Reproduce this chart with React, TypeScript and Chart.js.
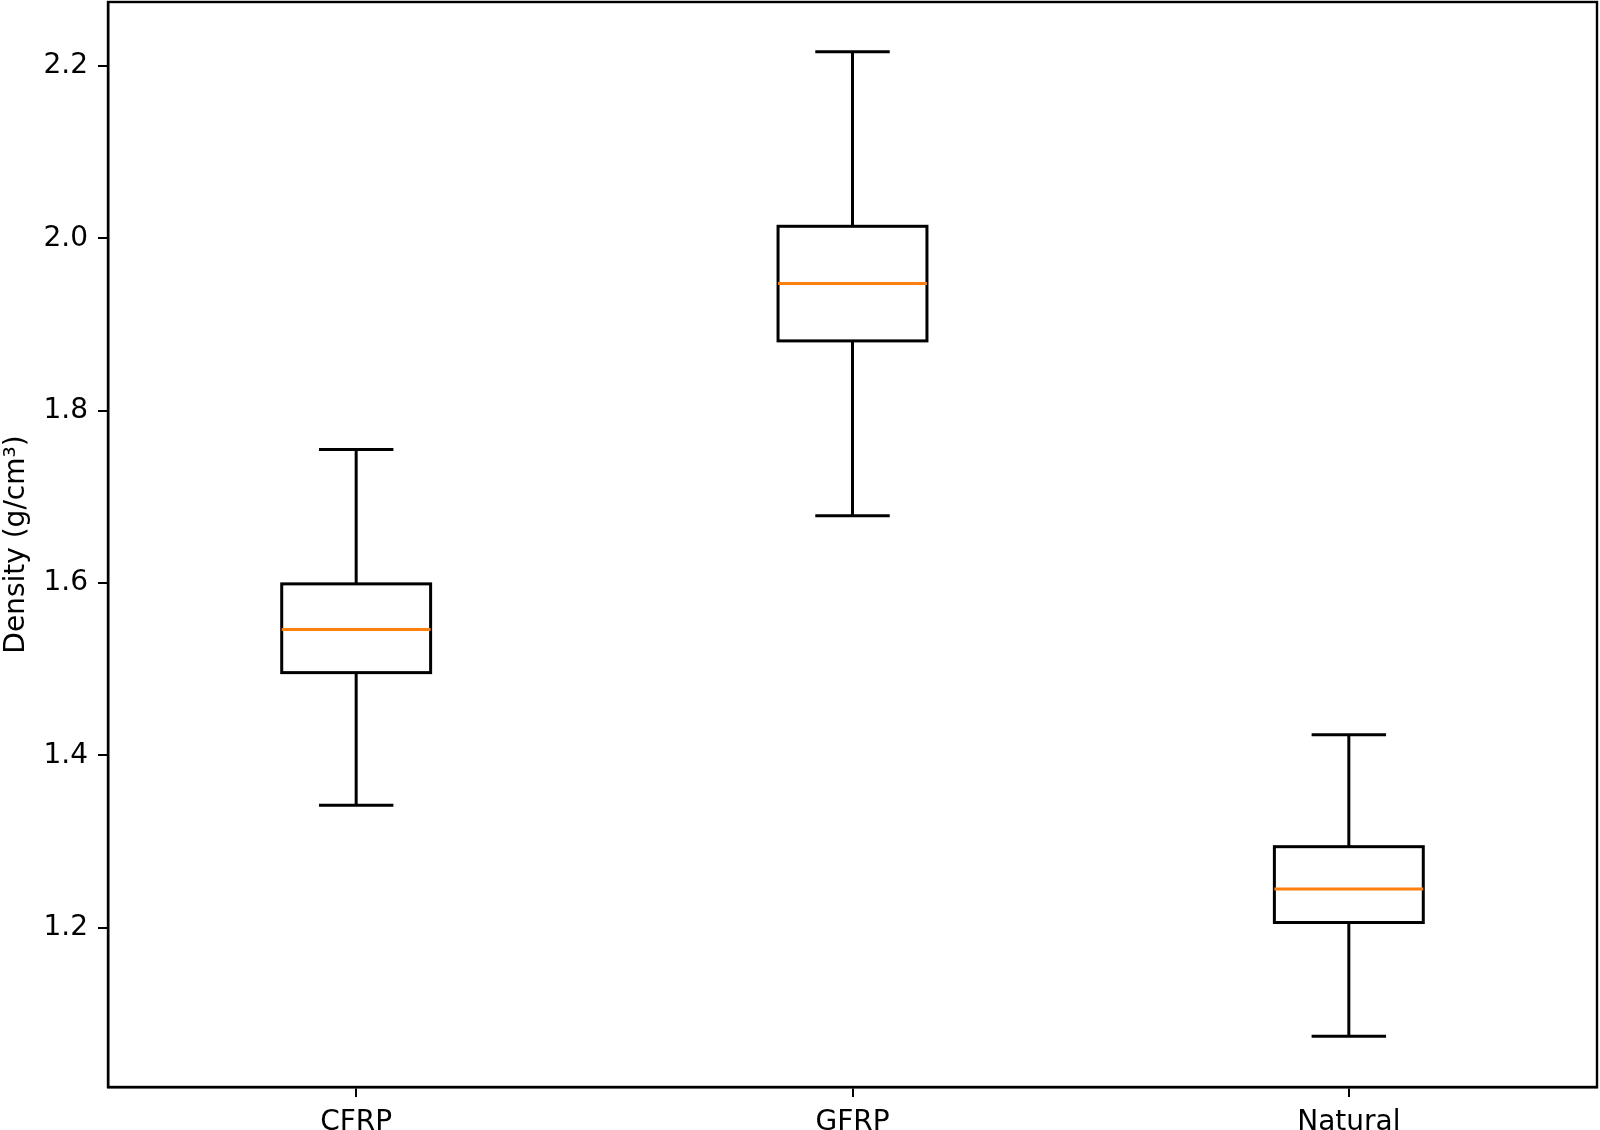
import React, { useEffect, useRef } from "react";
import { Chart, registerables } from "chart.js";

Chart.register(...registerables);

const categories = ["CFRP", "GFRP", "Natural"];
const whiskerLow = [1.342, 1.678, 1.074];
const q1 = [1.496, 1.881, 1.206];
const median = [1.546, 1.9475, 1.245];
const q3 = [1.599, 2.014, 1.294];
const whiskerHigh = [1.755, 2.2165, 1.424];
const yTicks = [1.2, 1.4, 1.6, 1.8, 2.0, 2.2];
const yMin = 1.0151;
const yMax = 2.2743;
const yTitle = "Density (g/cm³)";

const CANVAS_W = 1600;
const CANVAS_H = 1160;
const FONT = "'DejaVu Sans', sans-serif";

const boxPlugin = {
  id: "boxWhiskers",
  afterDatasetsDraw(chart: any) {
    const { ctx, scales, chartArea } = chart;
    const xs = scales.x;
    const ys = scales.y;
    const bars = chart.getDatasetMeta(0).data;
    const step = (chartArea.right - chartArea.left) / categories.length;
    const capHalf = step * 0.075;
    ctx.save();
    ctx.lineCap = "butt";
    ctx.lineJoin = "miter";
    categories.forEach((_, i) => {
      const cx = xs.getPixelForValue(i);
      const yLow = ys.getPixelForValue(whiskerLow[i]);
      const yQ1 = ys.getPixelForValue(q1[i]);
      const yQ3 = ys.getPixelForValue(q3[i]);
      const yHigh = ys.getPixelForValue(whiskerHigh[i]);
      const yMed = ys.getPixelForValue(median[i]);
      const bar = bars[i];
      const boxHalf = bar.width / 2;
      ctx.strokeStyle = "#000";
      ctx.lineWidth = 3;
      ctx.beginPath();
      ctx.moveTo(cx, yQ1);
      ctx.lineTo(cx, yLow);
      ctx.moveTo(cx, yQ3);
      ctx.lineTo(cx, yHigh);
      ctx.moveTo(cx - capHalf, yLow);
      ctx.lineTo(cx + capHalf, yLow);
      ctx.moveTo(cx - capHalf, yHigh);
      ctx.lineTo(cx + capHalf, yHigh);
      ctx.stroke();
      ctx.strokeRect(cx - boxHalf, yQ3, boxHalf * 2, yQ1 - yQ3);
      ctx.strokeStyle = "#ff7f0e";
      ctx.lineWidth = 3;
      ctx.beginPath();
      ctx.moveTo(cx - boxHalf, yMed);
      ctx.lineTo(cx + boxHalf, yMed);
      ctx.stroke();
    });
    ctx.strokeStyle = "#000";
    ctx.lineWidth = 2.4;
    ctx.strokeRect(chartArea.left, chartArea.top, chartArea.right - chartArea.left, chartArea.bottom - chartArea.top);
    ctx.restore();
  },
};

export default function App() {
  const ref = useRef<HTMLCanvasElement | null>(null);
  useEffect(() => {
    document.body.style.margin = "0";
    const canvas = ref.current!;
    const boxData = categories.map((_, i) => [q1[i], q3[i]]);
    const chart = new Chart(canvas, {
      type: "bar",
      data: {
        labels: categories,
        datasets: [
          {
            data: boxData as any,
            backgroundColor: "rgba(255,255,255,0)",
            borderColor: "rgba(0,0,0,0)",
            borderWidth: 0,
            barPercentage: 0.3,
            categoryPercentage: 1,
          },
        ],
      },
      options: {
        responsive: false,
        animation: false,
        devicePixelRatio: 1,
        layout: { padding: { top: 2, right: 3, left: 0, bottom: 0 } },
        plugins: { legend: { display: false }, tooltip: { enabled: false } },
        scales: {
          x: {
            type: "category",
            offset: true,
            grid: {
              display: true,
              offset: false,
              drawOnChartArea: false,
              drawTicks: true,
              tickLength: 10,
              lineWidth: 2,
              color: "#000",
            },
            border: { display: true, color: "#000", width: 2.4 },
            ticks: {
              color: "#000",
              font: { family: FONT, size: 28 },
              padding: 9,
              maxRotation: 0,
            },
            afterFit(s: any) {
              s.height = CANVAS_H - 1087;
              s.paddingLeft = 0;
              s.paddingRight = 0;
            },
          },
          y: {
            type: "linear",
            min: yMin,
            max: yMax,
            grid: {
              display: true,
              drawOnChartArea: false,
              drawTicks: true,
              tickLength: 10,
              lineWidth: 2,
              color: "#000",
            },
            border: { display: true, color: "#000", width: 2.4 },
            ticks: {
              color: "#000",
              font: { family: FONT, size: 28 },
              padding: 10,
              callback: (v: any) => Number(v).toFixed(1),
            },
            afterBuildTicks(s: any) {
              s.ticks = yTicks.map((v) => ({ value: v }));
            },
            title: {
              display: true,
              text: yTitle,
              color: "#000",
              font: { family: FONT, size: 28 },
              padding: 0,
            },
            afterFit(s: any) {
              s.width = 108;
              s.paddingTop = 0;
              s.paddingBottom = 0;
            },
          },
        },
      },
      plugins: [boxPlugin],
    });
    return () => chart.destroy();
  }, []);
  return (
    <div style={{ width: 1600, height: 1130, overflow: "hidden", position: "relative", background: "#fff" }}>
      <canvas ref={ref} width={CANVAS_W} height={CANVAS_H} style={{ width: CANVAS_W, height: CANVAS_H, display: "block" }} />
    </div>
  );
}
